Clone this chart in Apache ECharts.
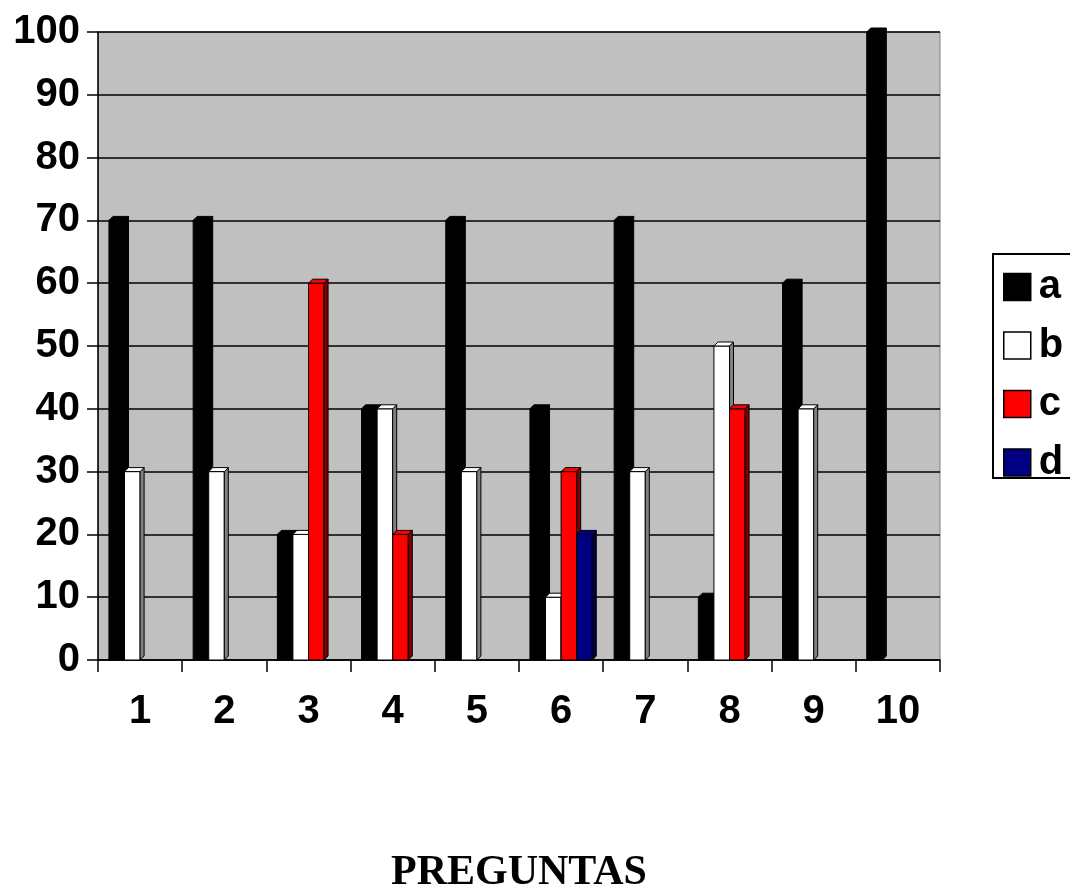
<!DOCTYPE html>
<html>
<head>
<meta charset="utf-8">
<script src="https://cdn.jsdelivr.net/npm/echarts@6/dist/echarts.min.js"></script>
<style>
html,body{margin:0;padding:0;background:#fff;}
#main{width:1070px;height:888px;}
</style>
</head>
<body>
<div id="main"></div>
<script>
const categories = ['1','2','3','4','5','6','7','8','9','10'];
const seriesNames = ['a','b','c','d'];
const valuesA = [70,70,20,40,70,40,70,10,60,100];
const valuesB = [30,30,20,40,30,10,30,50,40,0];
const valuesC = [0,0,60,20,0,30,0,40,0,0];
const valuesD = [0,0,0,0,0,20,0,0,0,0];
const yTicks = [0,10,20,30,40,50,60,70,80,90,100];
const xTitle = 'PREGUNTAS';

const faceColors = ['#000000','#ffffff','#ff0000','#000080'];
const sideColors = ['#000000','#808080','#800000','#000040'];
const topColors  = ['#000000','#ffffff','#ff0000','#000080'];
const allValues = [valuesA, valuesB, valuesC, valuesD];

const FONT = '"Liberation Sans", Arial, sans-serif';

function renderItem(params, api) {
  const s = params.seriesIndex;
  const cat = api.value(0), v = api.value(1);
  if (!v) return null;
  const base = api.coord([cat, 0]);
  const top = api.coord([cat, v]);
  const catW = api.size([1, 0])[0];
  const slot = catW * 0.74 / 4;
  const x0 = base[0] - 2 * slot + s * slot;
  const d = 4;
  const yt = top[1], yb = base[1];
  return {
    type: 'group',
    children: [
      {type:'rect', shape:{x:x0, y:yt, width:slot, height:yb-yt},
       style:{fill:faceColors[s], stroke:'#000', lineWidth:1}},
      {type:'polygon', shape:{points:[[x0+slot,yt],[x0+slot+d,yt-d],[x0+slot+d,yb-d],[x0+slot,yb]]},
       style:{fill:sideColors[s], stroke:'#000', lineWidth:1}},
      {type:'polygon', shape:{points:[[x0,yt],[x0+d,yt-d],[x0+slot+d,yt-d],[x0+slot,yt]]},
       style:{fill:topColors[s], stroke:'#000', lineWidth:1}}
    ]
  };
}

const series = seriesNames.map((name, s) => ({
  name: name,
  type: 'custom',
  renderItem: renderItem,
  encode: {x: 0, y: 1},
  itemStyle: {color: faceColors[s], borderColor: '#000', borderWidth: 1.5},
  data: allValues[s].map((v, i) => [i, v])
}));

const chart = echarts.init(document.getElementById('main'), null, {renderer: 'canvas'});
chart.setOption({
  animation: false,
  backgroundColor: '#ffffff',
  grid: {left: 98, right: 130, top: 32, bottom: 228, show: true,
         backgroundColor: '#c0c0c0', borderColor: '#808080', borderWidth: 1},
  xAxis: {
    type: 'category',
    data: categories,
    boundaryGap: true,
    axisLine: {lineStyle: {color: '#000', width: 1.5}},
    axisTick: {show: true, length: 12, lineStyle: {color: '#000', width: 1.5}},
    axisLabel: {fontFamily: FONT, fontWeight: 'bold', fontSize: 40, color: '#000', margin: 32},
    splitLine: {show: false}
  },
  yAxis: {
    type: 'value',
    min: 0, max: 100, interval: 10,
    axisLine: {show: true, lineStyle: {color: '#000', width: 1.5}},
    axisTick: {show: true, length: 11, lineStyle: {color: '#000', width: 1.5}},
    axisLabel: {fontFamily: FONT, fontWeight: 'bold', fontSize: 40, color: '#000', margin: 18,
                formatter: v => yTicks.includes(v) ? String(v) : ''},
    splitLine: {show: true, lineStyle: {color: '#000', width: 1.5}}
  },
  legend: {
    orient: 'vertical',
    left: 993, top: 267,
    padding: [0, 0, 0, 10],
    itemGap: 18.5,
    itemWidth: 27, itemHeight: 27,
    borderWidth: 0,
    textStyle: {fontFamily: FONT, fontWeight: 'bold', fontSize: 40, color: '#000', padding: [0,0,0,3]},
    data: seriesNames.map((n, s) => ({name: n, icon: 'rect',
      itemStyle: {color: faceColors[s], borderColor: '#000', borderWidth: 1.5}}))
  },
  graphic: [
    {type: 'rect', left: 992, top: 253, z: 0,
     shape: {width: 100, height: 224},
     style: {fill: '#fff', stroke: '#000', lineWidth: 2}},
    {type: 'text', x: 519, y: 873, z: 10,
     style: {text: xTitle, fontFamily: '"Liberation Serif", "Times New Roman", serif',
             fontWeight: 'bold', fontSize: 42, fill: '#000', align: 'center', verticalAlign: 'middle'}}
  ],
  series: series
});
</script>
</body>
</html>
